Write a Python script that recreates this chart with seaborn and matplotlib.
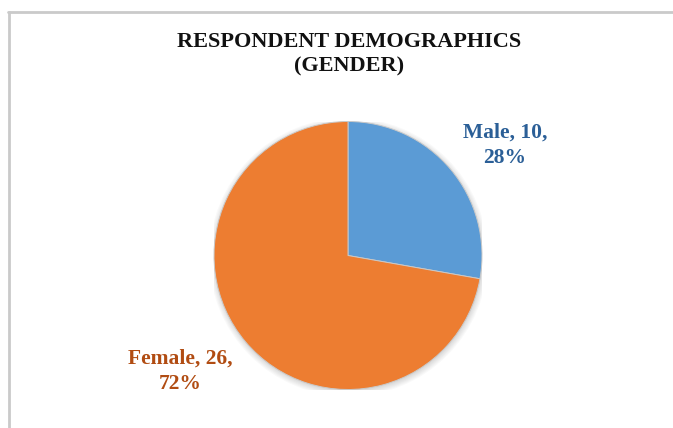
import matplotlib
matplotlib.use("Agg")
import matplotlib.pyplot as plt
from matplotlib.lines import Line2D
from matplotlib.patches import Circle
import seaborn as sns

# Respondent counts by gender
genders = ["Male", "Female"]
counts = [10, 26]
wedge_colors = ["#5B9BD5", "#ED7D31"]
label_colors = ["#2B5F97", "#B14C12"]
title = "RESPONDENT DEMOGRAPHICS\n(GENDER)"

sns.set_theme(style="white")
plt.rcParams["font.family"] = ["Liberation Serif", "DejaVu Serif"]

W, H = 673, 428
fig = plt.figure(figsize=(W / 100, H / 100), dpi=100)
fig.patch.set_facecolor("white")

# chart frame: light gray rules along the top and left
fig.add_artist(Line2D([8 / W, 1.0], [1 - 11.5 / H, 1 - 11.5 / H],
                      color="#CACACA", lw=2.0, transform=fig.transFigure))
fig.add_artist(Line2D([8.5 / W, 8.5 / W], [0.0, 1 - 11.5 / H],
                      color="#CACACA", lw=2.0, transform=fig.transFigure))

# pie axes: centre (348, 255.5) px, radius 134 px
cx, cy, r = 348, 255.5, 134
ax = fig.add_axes([(cx - r) / W, (H - cy - r) / H, 2 * r / W, 2 * r / H])

# soft shadow beneath the pie
for k in range(6):
    ax.add_patch(Circle((0.004, -0.012), 1.0 + 0.008 * k, color="black",
                        alpha=0.025, lw=0, zorder=0))

wedges, _ = ax.pie(counts, colors=wedge_colors, startangle=90, counterclock=False,
                   radius=1.0, wedgeprops=dict(edgecolor="#C9C9C9", linewidth=0.7))
for w in wedges:
    w.set_zorder(2)
ax.set_xlim(-1, 1)
ax.set_ylim(-1, 1)
ax.set_aspect("equal")
ax.axis("off")

fig.text(cx / W + 0.001, 1 - 54 / H, title, ha="center", va="center",
         fontsize=16, fontweight="bold", color="#111111", linespacing=1.3)

total = sum(counts)
label_pos = [(505, 145), (180, 371)]
for name, v, col, (lx, ly) in zip(genders, counts, label_colors, label_pos):
    pct = round(100 * v / total)
    fig.text(lx / W, 1 - ly / H, f"{name}, {v},\n{pct}%", ha="center", va="center",
             fontsize=15.5, fontweight="bold", color=col, linespacing=1.35)

fig.savefig("out.png", dpi=100, facecolor="white")
